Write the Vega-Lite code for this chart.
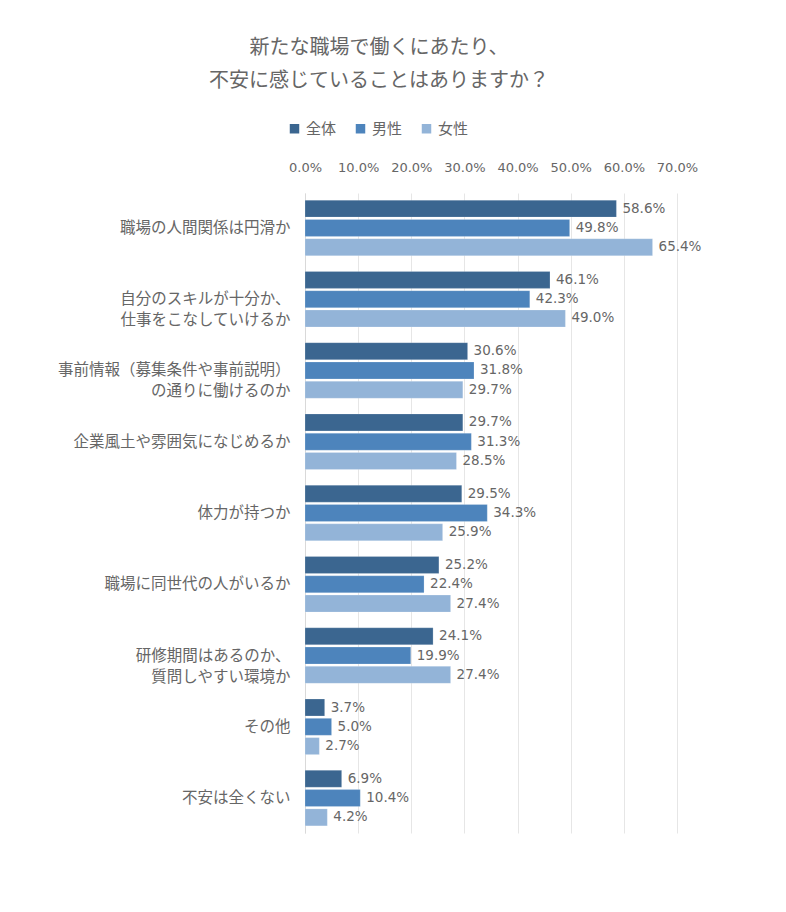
{
  "$schema": "https://vega.github.io/schema/vega-lite/v6.json",
  "width": 372,
  "height": 640,
  "autosize": {"type": "none"},
  "padding": {"left": 305, "top": 193, "right": 109, "bottom": 79},
  "background": "white",
  "config": {
    "font": "Noto Sans CJK JP",
    "view": {"stroke": null}
  },
  "title": {
    "text": ["新たな職場で働くにあたり、", "不安に感じていることはありますか？"],
    "anchor": "middle",
    "frame": "group",
    "dx": -112,
    "offset": 30,
    "fontSize": 20,
    "fontWeight": "normal",
    "color": "#666666",
    "lineHeight": 33
  },
  "data": {
    "values": [
      {"item": "職場の人間関係は円滑か", "group": "全体", "value": 0.586},
      {"item": "職場の人間関係は円滑か", "group": "男性", "value": 0.498},
      {"item": "職場の人間関係は円滑か", "group": "女性", "value": 0.654},
      {"item": "自分のスキルが十分か、\n仕事をこなしていけるか", "group": "全体", "value": 0.461},
      {"item": "自分のスキルが十分か、\n仕事をこなしていけるか", "group": "男性", "value": 0.423},
      {"item": "自分のスキルが十分か、\n仕事をこなしていけるか", "group": "女性", "value": 0.490},
      {"item": "事前情報（募集条件や事前説明）\nの通りに働けるのか", "group": "全体", "value": 0.306},
      {"item": "事前情報（募集条件や事前説明）\nの通りに働けるのか", "group": "男性", "value": 0.318},
      {"item": "事前情報（募集条件や事前説明）\nの通りに働けるのか", "group": "女性", "value": 0.297},
      {"item": "企業風土や雰囲気になじめるか", "group": "全体", "value": 0.297},
      {"item": "企業風土や雰囲気になじめるか", "group": "男性", "value": 0.313},
      {"item": "企業風土や雰囲気になじめるか", "group": "女性", "value": 0.285},
      {"item": "体力が持つか", "group": "全体", "value": 0.295},
      {"item": "体力が持つか", "group": "男性", "value": 0.343},
      {"item": "体力が持つか", "group": "女性", "value": 0.259},
      {"item": "職場に同世代の人がいるか", "group": "全体", "value": 0.252},
      {"item": "職場に同世代の人がいるか", "group": "男性", "value": 0.224},
      {"item": "職場に同世代の人がいるか", "group": "女性", "value": 0.274},
      {"item": "研修期間はあるのか、\n質問しやすい環境か", "group": "全体", "value": 0.241},
      {"item": "研修期間はあるのか、\n質問しやすい環境か", "group": "男性", "value": 0.199},
      {"item": "研修期間はあるのか、\n質問しやすい環境か", "group": "女性", "value": 0.274},
      {"item": "その他", "group": "全体", "value": 0.037},
      {"item": "その他", "group": "男性", "value": 0.050},
      {"item": "その他", "group": "女性", "value": 0.027},
      {"item": "不安は全くない", "group": "全体", "value": 0.069},
      {"item": "不安は全くない", "group": "男性", "value": 0.104},
      {"item": "不安は全くない", "group": "女性", "value": 0.042}
    ]
  },
  "encoding": {
    "y": {
      "field": "item",
      "type": "nominal",
      "sort": null,
      "scale": {"paddingInner": 0.22, "paddingOuter": 0.1},
      "axis": {
        "title": null,
        "ticks": false,
        "labelExpr": "split(datum.label, '\\n')",
        "labelFontSize": 15.5,
        "labelColor": "#666666",
        "labelPadding": 15,
        "labelLineHeight": 21,
        "labelLimit": 300,
        "domainColor": "#d9d9d9",
        "grid": false
      }
    },
    "yOffset": {
      "field": "group",
      "type": "nominal",
      "sort": ["全体", "男性", "女性"],
      "scale": {"paddingInner": 0.12}
    },
    "x": {
      "field": "value",
      "type": "quantitative",
      "scale": {"domain": [0, 0.7], "nice": false},
      "axis": {
        "orient": "top",
        "title": null,
        "values": [0, 0.1, 0.2, 0.3, 0.4, 0.5, 0.6, 0.7],
        "format": ".1%",
        "labelOverlap": false,
        "labelFlush": false,
        "labelFontSize": 13,
        "labelColor": "#666666",
        "labelPadding": 19,
        "ticks": false,
        "domain": false,
        "grid": true,
        "gridColor": "#e6e6e6",
        "labelFont": "DejaVu Sans"
      }
    }
  },
  "layer": [
    {
      "mark": {"type": "bar", "stroke": "#ffffff", "strokeOpacity": 0.4, "strokeWidth": 0.5},
      "encoding": {
        "color": {
          "field": "group",
          "type": "nominal",
          "sort": ["全体", "男性", "女性"],
          "scale": {"domain": ["全体", "男性", "女性"], "range": ["#3b6690", "#4d84bc", "#93b4d8"]},
          "legend": {
            "title": null,
            "orient": "none",
            "direction": "horizontal",
            "legendX": -18,
            "legendY": -72,
            "symbolType": "square",
            "symbolSize": 90,
            "symbolStrokeWidth": 0,
            "labelFontSize": 15,
            "labelColor": "#666666",
            "columnPadding": 16,
            "labelOffset": 4
          }
        }
      }
    },
    {
      "mark": {"type": "text", "align": "left", "dx": 6, "fontSize": 13.5, "color": "#666666", "font": "DejaVu Sans"},
      "encoding": {
        "text": {"field": "value", "type": "quantitative", "format": ".1%"}
      }
    }
  ]
}
